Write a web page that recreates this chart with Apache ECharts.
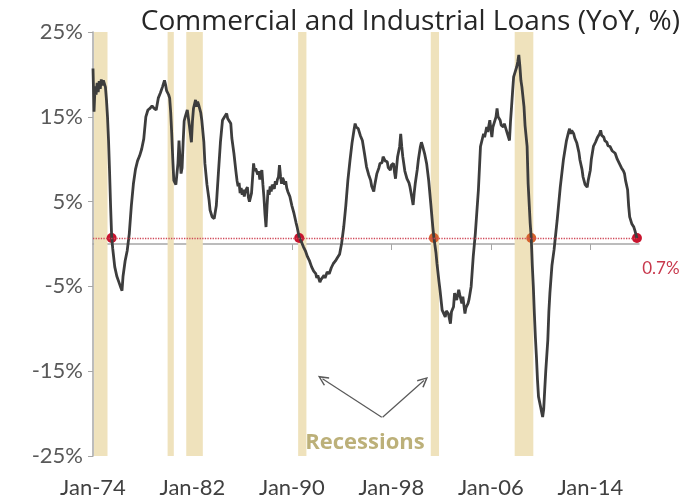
<!DOCTYPE html>
<html><head><meta charset="utf-8">
<script src="https://cdn.jsdelivr.net/npm/echarts@6/dist/echarts.min.js"></script>
<style>html,body{margin:0;padding:0;background:#fff}#c{width:682px;height:504px}</style>
</head><body><div id="c"></div>
<script>
// ---------------- data ----------------
const dates = [
 '1974-01','1974-02','1974-03','1974-04','1974-05','1974-06','1974-07','1974-08','1974-09','1974-10','1974-11','1974-12',
 '1975-01','1975-02','1975-03','1975-04','1975-05','1975-06','1975-07','1975-08','1975-10','1975-12',
 '1976-02','1976-04','1976-05','1976-06','1976-08','1976-10','1976-12',
 '1977-02','1977-04','1977-06','1977-08','1977-10','1977-12',
 '1978-02','1978-04','1978-06','1978-08','1978-10','1978-12',
 '1979-02','1979-04','1979-06','1979-08','1979-10','1979-11','1979-12',
 '1980-02','1980-03','1980-04','1980-05','1980-06','1980-07','1980-09','1980-10','1980-11','1980-12',
 '1981-01','1981-02','1981-03','1981-04','1981-05','1981-06','1981-08','1981-10','1981-12',
 '1982-01','1982-02','1982-04','1982-05','1982-06','1982-07','1982-09','1982-10','1982-12',
 '1983-01','1983-03','1983-05','1983-06','1983-08','1983-10','1983-11','1983-12',
 '1984-02','1984-04','1984-06','1984-08','1984-10','1984-11','1984-12',
 '1985-02','1985-03','1985-05','1985-07','1985-08','1985-09','1985-10','1985-11','1985-12',
 '1986-01','1986-02','1986-03','1986-04','1986-06','1986-07','1986-08','1986-09','1986-10','1986-12',
 '1987-01','1987-02','1987-03','1987-04','1987-05','1987-06','1987-07','1987-08','1987-09','1987-10','1987-11','1987-12',
 '1988-01','1988-02','1988-03','1988-04','1988-05','1988-06','1988-07','1988-08','1988-09','1988-10','1988-11','1988-12',
 '1989-01','1989-02','1989-03','1989-04','1989-05','1989-06','1989-07','1989-08','1989-09','1989-11',
 '1990-01','1990-03','1990-05','1990-06','1990-08','1990-10','1990-12',
 '1991-02','1991-04','1991-06','1991-08','1991-10','1991-12',
 '1992-01','1992-02','1992-04','1992-05','1992-06','1992-08','1992-09','1992-11',
 '1993-01','1993-03','1993-05','1993-07','1993-09','1993-11',
 '1994-01','1994-03','1994-05','1994-07','1994-09','1994-11',
 '1995-01','1995-02','1995-03','1995-05','1995-07','1995-09','1995-11',
 '1996-01','1996-03','1996-05','1996-06','1996-08','1996-09','1996-11',
 '1997-01','1997-02','1997-04','1997-05','1997-07','1997-09','1997-10','1997-12',
 '1998-01','1998-03','1998-04','1998-05','1998-06','1998-07','1998-09','1998-10','1998-11','1998-12',
 '1999-02','1999-04','1999-06','1999-07','1999-08','1999-10','1999-11','1999-12',
 '2000-02','2000-03','2000-05','2000-06','2000-07','2000-09','2000-11',
 '2001-01','2001-03','2001-05','2001-06','2001-08','2001-09','2001-11','2001-12',
 '2002-02','2002-03','2002-05','2002-06','2002-08','2002-09','2002-10','2002-11',
 '2003-01','2003-02','2003-04','2003-06','2003-07','2003-09','2003-10','2003-12',
 '2004-01','2004-03','2004-04','2004-06','2004-08','2004-10',
 '2005-01','2005-03','2005-05','2005-06','2005-07','2005-09','2005-10','2005-12',
 '2006-01','2006-02','2006-03','2006-04','2006-06','2006-07','2006-08','2006-10','2006-11',
 '2007-01','2007-02','2007-04','2007-05','2007-07','2007-08','2007-09','2007-10','2007-11',
 '2008-01','2008-02','2008-03','2008-04','2008-05','2008-06','2008-07','2008-09','2008-10','2008-12',
 '2009-01','2009-03','2009-04','2009-05','2009-06','2009-07','2009-08','2009-09','2009-10','2009-11',
 '2010-01','2010-02','2010-03','2010-04','2010-05','2010-06','2010-08','2010-09','2010-10','2010-12',
 '2011-02','2011-05','2011-08','2011-11',
 '2012-02','2012-04','2012-05','2012-06','2012-07','2012-09','2012-10','2012-12',
 '2013-02','2013-03','2013-05','2013-06','2013-08','2013-10','2013-11',
 '2014-01','2014-02','2014-04','2014-06','2014-08','2014-10','2014-11','2014-12',
 '2015-02','2015-03','2015-05','2015-06','2015-08','2015-10','2015-11',
 '2016-01','2016-03','2016-05','2016-07','2016-09','2016-10','2016-11',
 '2017-01','2017-02','2017-03','2017-05','2017-07','2017-08','2017-10'
];
const loanGrowth = [
 20.7,15.6,18.6,17.6,19.0,17.9,19.2,18.3,19.4,18.7,19.3,18.9,
 18.5,17.0,15.0,12.2,8.5,4.4,0.9,-0.5,-2.7,-3.8,
 -4.5,-5.2,-5.5,-3.8,-2.0,-0.8,1.2,
 4.5,7.1,8.8,9.8,10.4,11.2,
 12.4,15.0,15.8,16.0,16.3,16.0,
 15.8,17.2,17.8,18.5,19.3,18.8,18.1,
 17.6,17.2,15.5,13.0,10.0,7.5,7.0,6.9,9.5,12.2,
 10.0,8.3,9.0,12.0,14.5,15.0,15.8,14.0,12.0,
 14.5,16.0,17.0,16.2,16.8,16.4,15.5,14.6,12.0,
 9.5,7.0,5.2,4.0,3.2,3.0,2.8,4.5,
 8.3,12.0,14.6,15.0,15.4,14.8,15.0,
 14.2,12.5,10.7,8.5,7.5,6.8,7.2,6.0,6.6,
 5.8,6.4,5.6,6.2,6.7,5.5,5.0,4.8,6.0,9.5,
 8.6,8.9,9.1,8.2,8.6,7.6,8.4,8.7,7.0,5.5,3.5,2.0,
 4.5,6.4,5.8,6.8,6.2,7.0,7.1,6.5,7.4,7.0,7.6,7.9,
 9.3,8.0,7.1,7.8,7.5,7.0,7.4,6.6,6.2,5.6,
 4.5,3.6,2.5,2.0,0.8,0.3,-0.3,
 -0.8,-1.5,-2.0,-2.7,-3.2,-3.5,
 -4.0,-3.7,-4.5,-4.2,-4.4,-3.7,-4.0,-3.3,
 -3.5,-2.8,-2.3,-2.0,-1.6,-1.2,
 0.1,2.0,4.5,7.5,9.8,11.9,
 13.5,14.2,13.8,13.6,12.8,12.2,10.7,
 9.1,8.2,7.5,6.8,6.2,7.0,8.3,
 9.0,9.5,9.6,10.3,9.8,9.7,9.0,8.7,
 9.3,9.5,8.5,7.7,9.0,10.3,11.5,13.0,11.5,10.3,
 8.6,7.7,7.2,6.7,6.0,4.6,6.0,7.1,
 8.8,9.9,11.5,12.0,11.6,10.7,9.5,
 7.5,4.8,2.0,0.8,-1.0,-2.3,-4.5,-5.5,
 -7.8,-8.0,-8.6,-7.9,-8.2,-8.8,-9.4,-8.0,
 -7.4,-5.8,-6.6,-5.4,-6.0,-7.0,-6.2,-8.2,
 -7.5,-7.0,-6.5,-5.0,-1.5,1.2,
 6.4,11.5,12.5,13.0,12.6,13.8,13.2,14.6,
 13.5,12.6,13.8,14.2,15.0,16.0,15.0,14.6,14.0,
 13.8,14.2,13.4,13.0,12.2,14.5,16.2,18.0,19.7,
 20.5,20.9,21.5,22.3,21.0,19.3,18.5,16.2,14.0,11.5,
 7.1,2.4,0.7,-2.5,-5.0,-8.2,-11.0,-13.3,-16.0,-18.0,
 -19.2,-19.8,-20.4,-19.5,-17.2,-15.0,-11.3,-8.0,-5.8,-2.5,
 -0.7,2.8,6.7,9.9,
 12.2,13.2,13.6,13.0,13.4,13.0,12.5,11.9,
 10.8,9.9,8.8,7.9,7.0,6.7,7.5,
 8.7,10.0,11.5,12.0,12.6,13.0,13.4,12.8,
 12.6,12.2,12.0,11.6,11.5,11.0,11.2,
 10.7,10.0,9.5,9.0,8.6,8.3,7.5,
 6.4,4.5,3.2,2.4,2.0,1.6,0.7
];
const recessions = [
 ['1974-02','1975-03'], ['1980-01','1980-07'], ['1981-07','1982-11'],
 ['1990-07','1991-03'], ['2001-03','2001-11'], ['2007-12','2009-06']
];
const crossDates = ['1975-07','1990-08','2001-06','2009-04','2017-10'];
const crossValue = 0.7;
const xTickLabels = ['Jan-74','Jan-82','Jan-90','Jan-98','Jan-06','Jan-14'];
const yTickValues = [-25,-15,-5,5,15,25];
const titleText = 'Commercial and Industrial Loans (YoY, %)';
const annotationText = 'Recessions';

// ---------------- helpers ----------------
function toMonth(s){ const p = s.split('-').map(Number); return (p[0]-1974)*12 + (p[1]-1); }
const xTicks = xTickLabels.map(l => { const yy = +l.slice(4); const y = yy < 50 ? 2000+yy : 1900+yy; return (y-1974)*12; });
const lineData = dates.map((d,i) => [toMonth(d), loanGrowth[i]]);
const lastMonth = toMonth(dates[dates.length-1]);

// styles
const FONT = 'Lato, "Open Sans", sans-serif';
const TITLE_FONT = '"Open Sans", Lato, sans-serif';
const dotColors = ['#c8142e','#c8142e','#d6622c','#d6622c','#c8142e'];
const arrowPath = 'path://M5,0L10,9L8.7,9.7L5,2.9L1.3,9.7L0,9Z';

const chart = echarts.init(document.getElementById('c'));
chart.setOption({
  animation: false,
  backgroundColor: '#ffffff',
  title: { text: titleText, right: 2, top: 8, padding: 0,
    textStyle: { fontFamily: TITLE_FONT, fontSize: 28, fontWeight: 'normal', color: '#262626' } },
  grid: { left: 93, right: 43, top: 32, bottom: 48 },
  xAxis: [
    { type: 'value', min: 0, max: 527, position: 'bottom',
      axisLine: { show: false, onZero: false }, axisTick: { show: false }, splitLine: { show: false },
      axisLabel: { customValues: xTicks, formatter: v => xTickLabels[xTicks.indexOf(v)] || '',
        margin: 21, fontFamily: FONT, fontSize: 22, color: '#404040' } },
    { type: 'value', min: 0, max: 527, position: 'bottom',
      axisLine: { show: true, onZero: true, onZeroAxisIndex: 0, lineStyle: { color: '#a6a6a6', width: 1.5 } },
      axisTick: { show: true, customValues: xTicks.slice(1), length: 6, lineStyle: { color: '#a6a6a6', width: 1 } },
      axisLabel: { show: false }, splitLine: { show: false } }
  ],
  yAxis: { type: 'value', min: -25, max: 25,
    axisLine: { show: true, lineStyle: { color: '#a6a6a6', width: 1.5 } },
    axisTick: { show: true, customValues: yTickValues, length: 5, lineStyle: { color: '#a6a6a6' } },
    axisLabel: { customValues: yTickValues, formatter: '{value}%', margin: 10,
      fontFamily: FONT, fontSize: 22, color: '#595959' },
    splitLine: { show: false } },
  series: [
    { name: 'recessions', type: 'line', data: [], z: 1, silent: true,
      markArea: { silent: true, itemStyle: { color: '#efe2bc' },
        data: recessions.map(r => [{ xAxis: toMonth(r[0]) }, { xAxis: toMonth(r[1]) }]) } },
    { name: 'dots', type: 'scatter', z: 2, silent: true, symbolSize: 10,
      data: crossDates.map((d,i) => ({
        value: [toMonth(d), crossValue],
        itemStyle: { color: dotColors[i], opacity: 1 },
        label: i === crossDates.length-1 ? { show: true, formatter: crossValue + '%', position: 'inside',
          offset: [24, 30], fontFamily: FONT, fontSize: 17, color: '#c8384c' } : { show: false }
      })) },
    { name: 'C&I loans', type: 'line', z: 3, data: lineData, symbol: 'none', silent: true,
      lineStyle: { color: '#3d3d3d', width: 2.8 },
      markLine: { silent: true, symbol: 'none', label: { show: false },
        lineStyle: { color: '#d04858', type: 'dotted', width: 1.3 },
        data: [[{ coord: [0, crossValue] }, { coord: [lastMonth, crossValue] }]] } },
    { name: 'annotation', type: 'line', data: [], z: 4, silent: true,
      markLine: { silent: true, symbol: ['none', arrowPath], symbolSize: [10, 11], label: { show: false },
        lineStyle: { color: '#595959', width: 1.2, type: 'solid' },
        data: [
          [{ coord: [278.7, -20.43] }, { coord: [221.5, -15.9] }],
          [{ coord: [279.5, -20.43] }, { coord: [319.4, -16.1] }]
        ] } },
    { name: 'annotationText', type: 'scatter', z: 4, silent: true, symbolSize: 1,
      itemStyle: { color: 'transparent' },
      data: [[262.5, -23.45]],
      label: { show: true, formatter: annotationText, position: 'inside',
        fontFamily: TITLE_FONT, fontSize: 22, fontWeight: 'bold', color: '#ab9c58' } }
  ]
});
</script>
</body></html>
